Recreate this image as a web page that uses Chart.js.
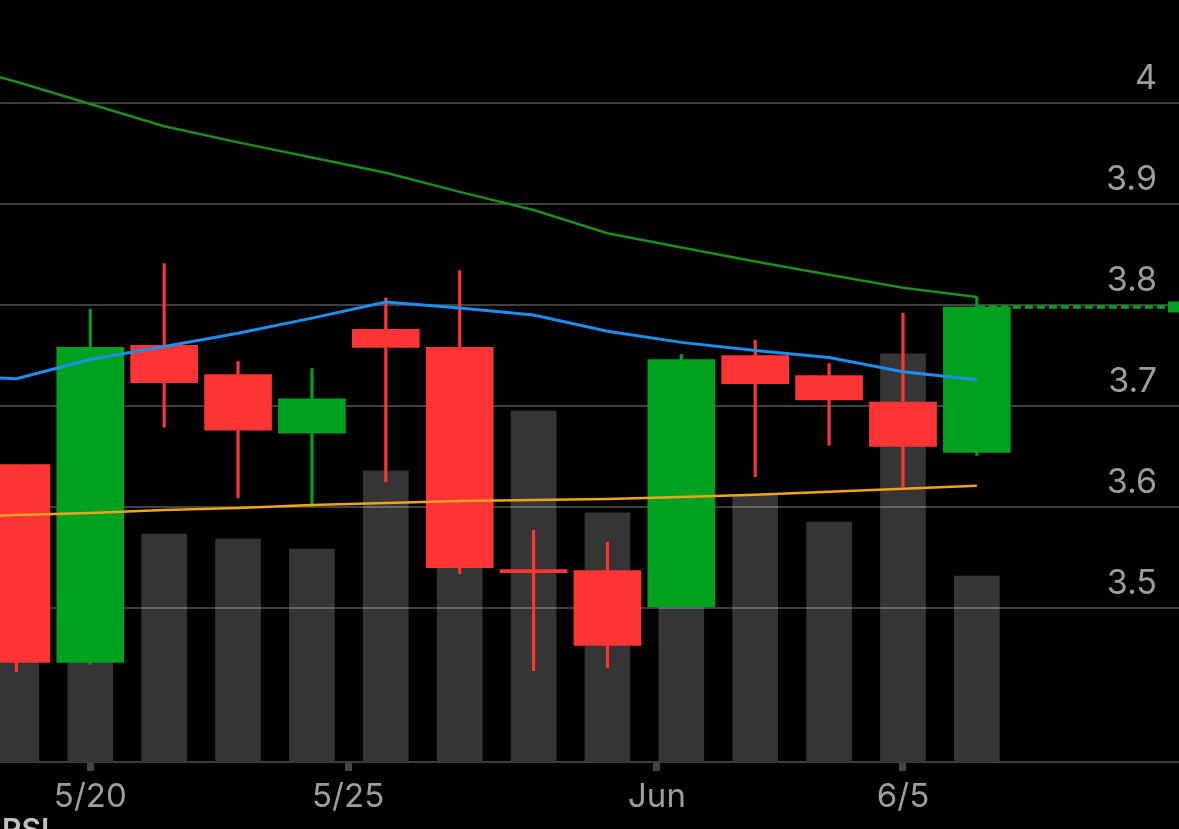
<!DOCTYPE html>
<html><head><meta charset="utf-8">
<script src="https://cdn.jsdelivr.net/npm/chart.js@4"></script>
<style>html,body{margin:0;padding:0;background:#000;overflow:hidden}#wrap{position:relative;width:1179px;height:829px}</style>
</head><body><div id="wrap"><canvas id="c"></canvas></div>
<script>
// ---- data ----
const dates  = ['5/16','5/17','5/20','5/21','5/22','5/23','5/24','5/28','5/29','5/30','5/31','6/3','6/4','6/5','6/6'];
const openP  = [null, 3.642, 3.446, 3.760, 3.731, 3.673, 3.776, 3.758, 3.536, 3.537, 3.501, 3.750, 3.730, 3.704, 3.654];
const highP  = [null, 3.642, 3.796, 3.841, 3.744, 3.737, 3.807, 3.834, 3.577, 3.565, 3.751, 3.765, 3.742, 3.792, 3.808];
const lowP   = [null, 3.437, 3.444, 3.679, 3.609, 3.600, 3.625, 3.534, 3.438, 3.441, 3.501, 3.630, 3.661, 3.620, 3.651];
const closeP = [null, 3.446, 3.758, 3.723, 3.676, 3.707, 3.758, 3.540, 3.535, 3.463, 3.746, 3.722, 3.706, 3.660, 3.798];
const volume = [null, 5.25, 6.6, 5.98, 5.85, 5.59, 7.64, 6.0, 9.21, 6.54, 8.0, 7.01, 6.30, 10.71, 4.88];
const maGreen  = [4.041, 4.021, 3.999, 3.977, 3.961, 3.946, 3.931, 3.912, 3.894, 3.871, 3.857, 3.843, 3.830, 3.817, 3.808];
const maBlue   = [3.730, 3.727, 3.746, 3.759, 3.772, 3.787, 3.803, 3.797, 3.790, 3.774, 3.763, 3.755, 3.748, 3.734, 3.726];
const maOrange = [3.589, 3.592, 3.594, 3.597, 3.599, 3.602, 3.604, 3.606, 3.607, 3.608, 3.610, 3.612, 3.615, 3.618, 3.621];
const xTickPos    = [2, 5.49, 9.67, 13];
const xTickLabels = ['5/20', '5/25', 'Jun', '6/5'];
const yGridValues = [4.0, 3.9, 3.8, 3.7, 3.6, 3.5];
const yTickLabels = ['4', '3.9', '3.8', '3.7', '3.6', '3.5'];

// ---- view range ----
const X_MIN = 0.778, X_MAX = 16.736;
const Y_MIN = 3.3475, Y_MAX = 4.102;
const VOL_MAX = 20;

const UP = '#00a11f', DOWN = '#ff3434';
const idx = dates.map((d, i) => i);
const valid = idx.filter(i => openP[i] !== null);
const candleColor = valid.map(i => closeP[i] >= openP[i] ? UP : DOWN);
const lastI = valid[valid.length - 1];

const gridPlugin = {
  id: 'gridAfterVolume',
  afterDatasetDraw(chart, args) {
    if (chart.data.datasets[args.index].id !== 'volume') return;
    const {ctx, chartArea} = chart; const ys = chart.scales.y;
    ctx.save();
    ctx.strokeStyle = 'rgba(255,255,255,0.25)';
    ctx.lineWidth = 2;
    yGridValues.forEach(v => {
      const p = Math.round(ys.getPixelForValue(v));
      ctx.beginPath(); ctx.moveTo(chartArea.left, p); ctx.lineTo(chartArea.right, p); ctx.stroke();
    });
    ctx.restore();
  },
  afterDraw(chart) {
    const {ctx, chartArea} = chart; const ys = chart.scales.y;
    ctx.save();
    ctx.font = '34px Inter';
    ctx.fillStyle = '#9d9d9d';
    ctx.textAlign = 'right';
    ctx.textBaseline = 'middle';
    yGridValues.forEach((v, i) => ctx.fillText(yTickLabels[i], chartArea.right - 22, ys.getPixelForValue(v) - 24));
    // last price marker
    const py = ys.getPixelForValue(closeP[lastI]);
    ctx.fillStyle = UP;
    ctx.fillRect(chartArea.right - 11, py - 5.5, 11, 11);
    // next panel title
    ctx.font = '600 30px Inter';
    ctx.fillStyle = '#c0c0c0';
    ctx.textAlign = 'left';
    ctx.textBaseline = 'top';
    ctx.fillText('RSI', 2, 816);
    ctx.restore();
  }
};

Chart.defaults.font.family = 'Inter';

new Chart(document.getElementById('c'), {
  type: 'bar',
  data: {
    datasets: [
      { id: 'volume', type: 'bar', yAxisID: 'yv', order: 10, grouped: false, barThickness: 45,
        backgroundColor: '#353535', borderWidth: 0,
        data: valid.map(i => ({x: i, y: volume[i]})) },
      { id: 'wick', type: 'bar', yAxisID: 'y', order: 8, grouped: false, barThickness: 2.5,
        backgroundColor: candleColor, borderWidth: 0,
        data: valid.map(i => ({x: i, y: [lowP[i], highP[i]]})) },
      { id: 'last', type: 'line', yAxisID: 'y', order: 7, borderColor: UP, borderWidth: 3.5,
        borderDash: [8, 4], pointRadius: 0,
        data: [{x: lastI, y: closeP[lastI]}, {x: X_MAX, y: closeP[lastI]}] },
      { id: 'body', type: 'bar', yAxisID: 'y', order: 6, grouped: false, barThickness: 67, minBarLength: 3,
        backgroundColor: candleColor, borderWidth: 0,
        data: valid.map(i => ({x: i, y: [openP[i], closeP[i]]})) },
      { id: 'maOrange', type: 'line', yAxisID: 'y', order: 3, borderColor: '#f2a21f', borderWidth: 2.5,
        pointRadius: 0, tension: 0, data: idx.map(i => ({x: i, y: maOrange[i]})) },
      { id: 'maGreen', type: 'line', yAxisID: 'y', order: 2, borderColor: '#1c8e1c', borderWidth: 2.5,
        pointRadius: 0, tension: 0, data: idx.map(i => ({x: i, y: maGreen[i]})) },
      { id: 'maBlue', type: 'line', yAxisID: 'y', order: 1, borderColor: '#1b8ff0', borderWidth: 3,
        pointRadius: 0, tension: 0, data: idx.map(i => ({x: i, y: maBlue[i]})) }
    ]
  },
  options: {
    responsive: true, maintainAspectRatio: false, animation: false, devicePixelRatio: 1,
    layout: { padding: 0 },
    plugins: { legend: { display: false }, tooltip: { enabled: false } },
    scales: {
      x: { type: 'linear', min: X_MIN, max: X_MAX, offset: false,
        afterBuildTicks: s => { s.ticks = xTickPos.map(v => ({value: v})); },
        afterFit: s => { s.height = 67; },
        ticks: { autoSkip: false, maxRotation: 0, color: '#9d9d9d', font: {size: 33}, padding: 6,
          callback: (v, i) => xTickLabels[i] },
        grid: { display: true, drawOnChartArea: false, drawTicks: true, tickLength: 9, tickWidth: 7,
          tickColor: '#444', offset: false },
        border: { display: true, color: '#3d3d3d', width: 2 }
      },
      y: { display: false, min: Y_MIN, max: Y_MAX },
      yv: { display: false, min: 0, max: VOL_MAX }
    }
  },
  plugins: [gridPlugin]
});
</script>
</body></html>
